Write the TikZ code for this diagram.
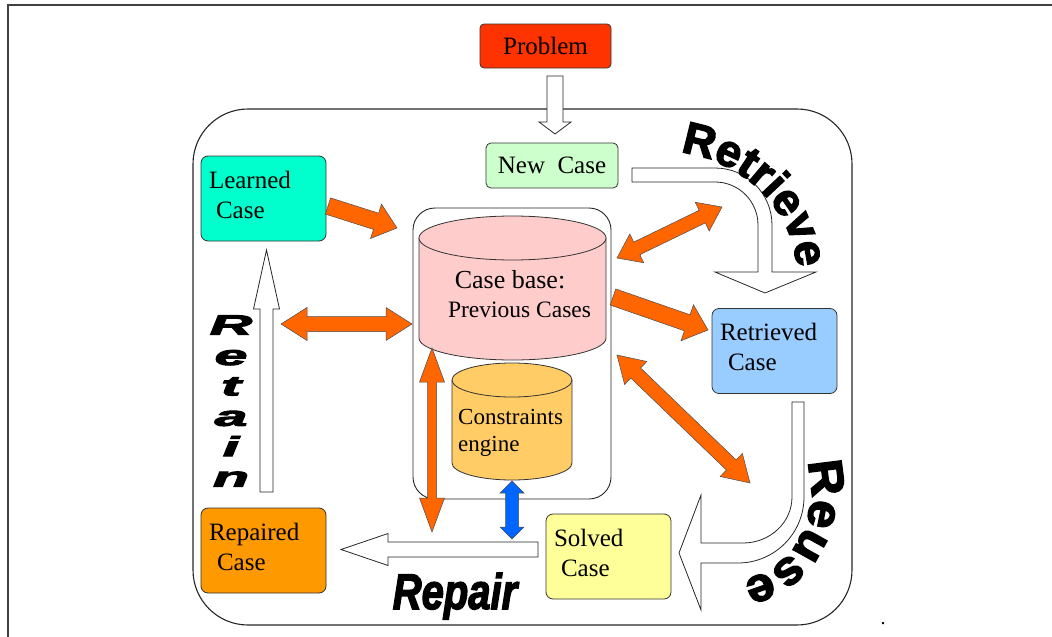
\documentclass[tikz,border=0pt]{standalone}
\usepackage{fontspec}
\setmainfont{Liberation Serif}
\newfontfamily\heavy{Liberation Sans Bold}[FakeBold=3]
\newfontfamily\heavyx{Liberation Sans Bold}[FakeBold=3,FakeStretch=1.05]
\newfontfamily\heavyit{Liberation Sans Bold Italic}[FakeBold=3]
\usetikzlibrary{calc,decorations.text}
\definecolor{probc}{HTML}{FF3300}
\definecolor{newc}{HTML}{CCFFCC}
\definecolor{learnc}{HTML}{00FFCC}
\definecolor{cbc}{HTML}{FFCCCC}
\definecolor{consc}{HTML}{FFCC66}
\definecolor{retc}{HTML}{99CCFF}
\definecolor{solc}{HTML}{FFFF99}
\definecolor{repc}{HTML}{FF9900}
\definecolor{fatc}{HTML}{FF6600}
\definecolor{bluec}{HTML}{0066FF}
% double-headed fat arrow: #1 style, #2 A, #3 B, #4 shaft half, #5 head half, #6 head length
\newcommand\dblarrow[6]{%
 \coordinate (da1) at ($(#2)!#6!(#3)$);
 \coordinate (da2) at ($(#3)!#6!(#2)$);
 \filldraw[#1] (#2) -- ($(da1)!#5!90:(#3)$) -- ($(da1)!#4!90:(#3)$) -- ($(da2)!#4!-90:(#2)$) -- ($(da2)!#5!-90:(#2)$) -- (#3) -- ($(da2)!#5!90:(#2)$) -- ($(da2)!#4!90:(#2)$) -- ($(da1)!#4!-90:(#3)$) -- ($(da1)!#5!-90:(#3)$) -- cycle;}
% single-headed fat arrow from #2 to #3
\newcommand\sglarrow[6]{%
 \coordinate (da2) at ($(#3)!#6!(#2)$);
 \filldraw[#1] ($(#2)!#4!90:(#3)$) -- ($(da2)!#4!-90:(#2)$) -- ($(da2)!#5!-90:(#2)$) -- (#3) -- ($(da2)!#5!90:(#2)$) -- ($(da2)!#4!90:(#2)$) -- ($(#2)!#4!-90:(#3)$) -- cycle;}
\newcommand\lowline{\rule[-8pt]{0pt}{8pt}}
\begin{document}
\begin{tikzpicture}[x=1pt,y=-1pt,
  box/.style={draw=black!80, line width=0.8pt, rounded corners=7pt, minimum width=125pt, minimum height=85pt, text width=109pt, inner xsep=8pt, inner ysep=0pt, align=left, font=\fontsize{25}{30}\selectfont},
  fat/.style={fill=fatc, draw=black!70, line width=0.5pt},
  bfat/.style={fill=bluec, draw=black!70, line width=0.5pt},
  hollow/.style={fill=white, draw=black!85, line width=0.8pt},
  cyl/.style={draw=black!80, line width=0.8pt},
  txt/.style={inner sep=0pt}]
\useasboundingbox (0,0) rectangle (1052,637);
% outer frame lines
\draw[line width=1.4pt, black!75] (1052,5) -- (8,5) -- (8,637);
% big rounded frame
\draw[line width=1.1pt, black!85, rounded corners=55pt] (193,109) rectangle (852,625);
% inner container
\draw[line width=0.9pt, black!85, rounded corners=22pt] (413,208) rectangle (611,499);
% case base cylinder
\fill[cbc] (512.5,338) ellipse[x radius=93.5, y radius=22];
\fill[cbc] (419,238) rectangle (606,338);
\draw[cyl] (419,238) -- (419,338) arc[start angle=180, end angle=0, x radius=93.5, y radius=22] -- (606,238);
\filldraw[cyl, fill=cbc] (512.5,238) ellipse[x radius=93.5, y radius=22];
\node[txt, anchor=base, font=\fontsize{26}{28}\selectfont] (cbt1) at (510,288) {Case base:};
\node[txt, anchor=base, font=\fontsize{23.5}{28}\selectfont] (cbt2) at (519.5,317) {Previous Cases};
% constraints cylinder
\fill[consc] (512,463) ellipse[x radius=60, y radius=17];
\fill[consc] (452,380) rectangle (572,463);
\draw[cyl] (452,380) -- (452,463) arc[start angle=180, end angle=0, x radius=60, y radius=17] -- (572,380);
\filldraw[cyl, fill=consc] (512,380) ellipse[x radius=60, y radius=17];
\node[txt, anchor=base west, font=\fontsize{23}{28}\selectfont] (ce1) at (458,424) {Constraints};
\node[txt, anchor=base west, font=\fontsize{23}{28}\selectfont] (ce2) at (458,451) {engine};
% boxes
\node[draw=black!80, line width=0.8pt, fill=probc, rounded corners=4pt, minimum width=131pt, minimum height=44pt, inner sep=0pt, font=\fontsize{25}{30}\selectfont] (problem) at (545.5,46) {Problem};
\node[draw=black!80, line width=0.8pt, fill=newc, rounded corners=5pt, minimum width=132pt, minimum height=45pt, inner sep=0pt, font=\fontsize{25}{30}\selectfont] (newcase) at (552,165.5) {New~~Case};
\node[box, fill=learnc] (learned) at (263.5,198.5) {Learned\\\hspace*{7pt}Case\lowline};
\node[box, fill=retc] (retrieved) at (774.5,351) {Retrieved\\\hspace*{8pt}Case\lowline};
\node[box, fill=solc] (solved) at (608.5,556.5) {Solved\\\hspace*{7pt}Case\lowline};
\node[box, fill=repc] (repaired) at (263.5,550.5) {Repaired\\\hspace*{8pt}Case\lowline};
% coordinates for connectors
\coordinate (p1) at (555,76);  \coordinate (p2) at (555,134);
\coordinate (r1) at (266.5,492); \coordinate (r2) at (266.5,250);
\coordinate (q1) at (538,549.5); \coordinate (q2) at (341,549.5);
\coordinate (a1s) at (328,206); \coordinate (a1e) at (397,228);
\coordinate (a2s) at (281,324); \coordinate (a2e) at (412,324);
\coordinate (a3s) at (617,258); \coordinate (a3e) at (722,207);
\coordinate (a4s) at (613,297); \coordinate (a4e) at (708,330);
\coordinate (a5s) at (617,355); \coordinate (a5e) at (750,483);
\coordinate (a6s) at (432,348); \coordinate (a6e) at (432,532);
\coordinate (a7s) at (512,481); \coordinate (a7e) at (512,539);
% hollow straight arrows
\sglarrow{hollow}{p1}{p2}{8pt}{16pt}{12pt}
\sglarrow{hollow}{r1}{r2}{6.5pt}{13pt}{59pt}
\sglarrow{hollow}{q1}{q2}{7.5pt}{16pt}{47pt}
% retrieve curved hollow arrow
\filldraw[hollow] (632,168) -- (715,168) arc[start angle=-90, end angle=0, radius=57] -- (772,272) -- (816,272) -- (765,293) -- (715,272) -- (758,272) -- (758,225) arc[start angle=0, end angle=-90, radius=43] -- (632,182) -- cycle;
% reuse curved hollow arrow
\filldraw[hollow] (792,402) -- (804,402) -- (804,497) arc[start angle=0, end angle=90, x radius=66, y radius=66] -- (701,563) -- (701,610) -- (679,553) -- (701,495) -- (701,543) -- (743,543) arc[start angle=90, end angle=0, x radius=49, y radius=46] -- cycle;
% orange arrows
\sglarrow{fat}{a1s}{a1e}{8.5pt}{18pt}{22pt}
\dblarrow{fat}{a2s}{a2e}{7.5pt}{16.5pt}{26pt}
\dblarrow{fat}{a3s}{a3e}{7pt}{16pt}{22pt}
\sglarrow{fat}{a4s}{a4e}{8.5pt}{19pt}{22pt}
\dblarrow{fat}{a5s}{a5e}{7pt}{16pt}{26pt}
\dblarrow{fat}{a6s}{a6e}{4.5pt}{12.5pt}{34pt}
\dblarrow{bfat}{a7s}{a7e}{6.5pt}{12pt}{12pt}
% step labels
\path[decorate, decoration={text along path, text={|\fontsize{45}{45}\heavy|Retrieve}, text align=left}] (680.3,152.4) arc[start angle=-81.5, end angle=15, x radius=137, y radius=124];
\path[decorate, decoration={text along path, text={|\fontsize{48}{48}\heavyx|Reuse}, text align=left}] (806.3,461.9) arc[start angle=-20, end angle=115, x radius=78, y radius=88];
\node[txt, align=center, xscale=2.1, font=\fontsize{28}{30.4}\heavyit] (retain) at (231,401) {R\\e\\t\\a\\i\\n};
\node[txt, anchor=base, xscale=0.8, font=\fontsize{50}{50}\heavyit] (repair) at (455,609) {Repair};
\node[txt, font=\fontsize{20}{20}\selectfont] (dot) at (883,624) {.};
\end{tikzpicture}
\end{document}
